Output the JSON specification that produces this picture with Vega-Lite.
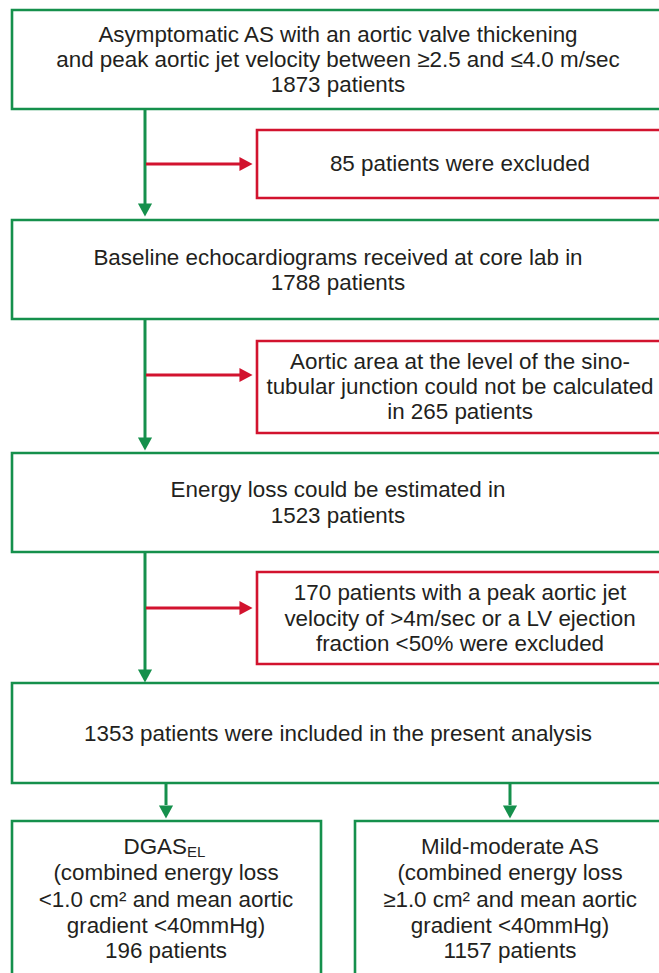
{
  "$schema": "https://vega.github.io/schema/vega-lite/v6.json",
  "width": 659,
  "height": 973,
  "autosize": {"type": "fit", "contains": "padding"},
  "padding": 0,
  "background": "white",
  "config": {"view": {"stroke": null}},
  "datasets": {
    "boxes": [
      {"id": "b1", "x1": 12, "x2": 680, "y1": 10, "y2": 109, "kind": "g"},
      {"id": "r1", "x1": 257, "x2": 680, "y1": 130, "y2": 198, "kind": "r"},
      {"id": "b2", "x1": 12, "x2": 680, "y1": 220, "y2": 319, "kind": "g"},
      {"id": "r2", "x1": 257, "x2": 680, "y1": 341, "y2": 433, "kind": "r"},
      {"id": "b3", "x1": 12, "x2": 680, "y1": 453, "y2": 552, "kind": "g"},
      {"id": "r3", "x1": 257, "x2": 680, "y1": 572, "y2": 664, "kind": "r"},
      {"id": "b4", "x1": 12, "x2": 680, "y1": 683, "y2": 783, "kind": "g"},
      {"id": "b5", "x1": 12, "x2": 321, "y1": 821, "y2": 990, "kind": "g"},
      {"id": "b6", "x1": 355, "x2": 680, "y1": 821, "y2": 990, "kind": "g"}
    ],
    "links": [
      {"x1": 145, "x2": 145, "y1": 109, "y2": 205, "kind": "g"},
      {"x1": 145, "x2": 145, "y1": 319, "y2": 438, "kind": "g"},
      {"x1": 145, "x2": 145, "y1": 552, "y2": 670, "kind": "g"},
      {"x1": 166, "x2": 166, "y1": 783, "y2": 805, "kind": "g"},
      {"x1": 510, "x2": 510, "y1": 783, "y2": 805, "kind": "g"},
      {"x1": 146, "x2": 241, "y1": 164, "y2": 164, "kind": "r"},
      {"x1": 146, "x2": 241, "y1": 375, "y2": 375, "kind": "r"},
      {"x1": 146, "x2": 241, "y1": 608, "y2": 608, "kind": "r"}
    ],
    "heads": [
      {"x": 145, "y": 210, "dir": "down", "kind": "g"},
      {"x": 145, "y": 444, "dir": "down", "kind": "g"},
      {"x": 145, "y": 676, "dir": "down", "kind": "g"},
      {"x": 166, "y": 812, "dir": "down", "kind": "g"},
      {"x": 510, "y": 812, "dir": "down", "kind": "g"},
      {"x": 246, "y": 164, "dir": "right", "kind": "r"},
      {"x": 246, "y": 375, "dir": "right", "kind": "r"},
      {"x": 246, "y": 608, "dir": "right", "kind": "r"}
    ],
    "labels": [
      {"x": 338, "y": 35, "t": "Asymptomatic AS with an aortic valve thickening", "part": "main"},
      {"x": 338, "y": 60, "t": "and peak aortic jet velocity between ≥2.5 and ≤4.0 m/sec", "part": "main"},
      {"x": 338, "y": 85, "t": "1873 patients", "part": "main"},
      {"x": 460, "y": 164, "t": "85 patients were excluded", "part": "main"},
      {"x": 338, "y": 258, "t": "Baseline echocardiograms received at core lab in", "part": "main"},
      {"x": 338, "y": 283, "t": "1788 patients", "part": "main"},
      {"x": 460, "y": 362, "t": "Aortic area at the level of the sino-", "part": "main"},
      {"x": 460, "y": 387, "t": "tubular junction could not be calculated", "part": "main"},
      {"x": 460, "y": 412, "t": "in 265 patients", "part": "main"},
      {"x": 338, "y": 490, "t": "Energy loss could be estimated in", "part": "main"},
      {"x": 338, "y": 516, "t": "1523 patients", "part": "main"},
      {"x": 460, "y": 593, "t": "170 patients with a peak aortic jet", "part": "main"},
      {"x": 460, "y": 619, "t": "velocity of >4m/sec or a LV ejection", "part": "main"},
      {"x": 460, "y": 644, "t": "fraction <50% were excluded", "part": "main"},
      {"x": 338, "y": 734, "t": "1353 patients were included in the present analysis", "part": "main"},
      {"x": 187, "y": 847, "t": "DGAS", "part": "base"},
      {"x": 187, "y": 852, "t": "EL", "part": "sub"},
      {"x": 166, "y": 873, "t": "(combined energy loss", "part": "main"},
      {"x": 166, "y": 900, "t": "<1.0 cm² and mean aortic", "part": "main"},
      {"x": 166, "y": 926, "t": "gradient <40mmHg)", "part": "main"},
      {"x": 166, "y": 951, "t": "196 patients", "part": "main"},
      {"x": 510, "y": 847, "t": "Mild-moderate AS", "part": "main"},
      {"x": 510, "y": 873, "t": "(combined energy loss", "part": "main"},
      {"x": 510, "y": 900, "t": "≥1.0 cm² and mean aortic", "part": "main"},
      {"x": 510, "y": 926, "t": "gradient <40mmHg)", "part": "main"},
      {"x": 510, "y": 951, "t": "1157 patients", "part": "main"}
    ]
  },
  "layer": [
    {
      "data": {"name": "boxes"},
      "mark": {"type": "rect", "fill": "white", "strokeWidth": 2.6, "clip": true},
      "encoding": {
        "x": {"field": "x1", "type": "quantitative", "scale": {"domain": [0, 659], "nice": false, "zero": false}, "axis": null},
        "x2": {"field": "x2"},
        "y": {"field": "y1", "type": "quantitative", "scale": {"domain": [0, 973], "reverse": true, "nice": false, "zero": false}, "axis": null},
        "y2": {"field": "y2"},
        "stroke": {"field": "kind", "type": "nominal", "scale": {"domain": ["g", "r"], "range": ["#15904c", "#d2132e"]}, "legend": null}
      }
    },
    {
      "data": {"name": "links"},
      "mark": {"type": "rule", "strokeWidth": 3, "clip": true},
      "encoding": {
        "x": {"field": "x1", "type": "quantitative", "axis": null},
        "x2": {"field": "x2"},
        "y": {"field": "y1", "type": "quantitative", "axis": null},
        "y2": {"field": "y2"},
        "color": {"field": "kind", "type": "nominal", "scale": {"domain": ["g", "r"], "range": ["#15904c", "#d2132e"]}, "legend": null}
      }
    },
    {
      "data": {"name": "heads"},
      "mark": {"type": "point", "filled": true, "opacity": 1, "size": 200},
      "encoding": {
        "x": {"field": "x", "type": "quantitative", "axis": null},
        "y": {"field": "y", "type": "quantitative", "axis": null},
        "shape": {"field": "dir", "type": "nominal", "scale": {"domain": ["down", "right"], "range": ["M-1,-0.93L1,-0.93L0,0.93Z", "M-0.93,-1L0.93,0L-0.93,1Z"]}, "legend": null},
        "color": {"field": "kind", "type": "nominal", "scale": {"domain": ["g", "r"], "range": ["#15904c", "#d2132e"]}, "legend": null}
      }
    },
    {
      "data": {"name": "labels"},
      "transform": [{"filter": "datum.part === 'main'"}],
      "mark": {"type": "text", "font": "Liberation Sans", "fontSize": 22.4, "color": "#231f20", "align": "center", "baseline": "middle"},
      "encoding": {
        "x": {"field": "x", "type": "quantitative", "axis": null},
        "y": {"field": "y", "type": "quantitative", "axis": null},
        "text": {"field": "t"}
      }
    },
    {
      "data": {"name": "labels"},
      "transform": [{"filter": "datum.part === 'base'"}],
      "mark": {"type": "text", "font": "Liberation Sans", "fontSize": 22.4, "color": "#231f20", "align": "right", "baseline": "middle"},
      "encoding": {
        "x": {"field": "x", "type": "quantitative", "axis": null},
        "y": {"field": "y", "type": "quantitative", "axis": null},
        "text": {"field": "t"}
      }
    },
    {
      "data": {"name": "labels"},
      "transform": [{"filter": "datum.part === 'sub'"}],
      "mark": {"type": "text", "font": "Liberation Sans", "fontSize": 15, "color": "#231f20", "align": "left", "baseline": "middle"},
      "encoding": {
        "x": {"field": "x", "type": "quantitative", "axis": null},
        "y": {"field": "y", "type": "quantitative", "axis": null},
        "text": {"field": "t"}
      }
    }
  ]
}
